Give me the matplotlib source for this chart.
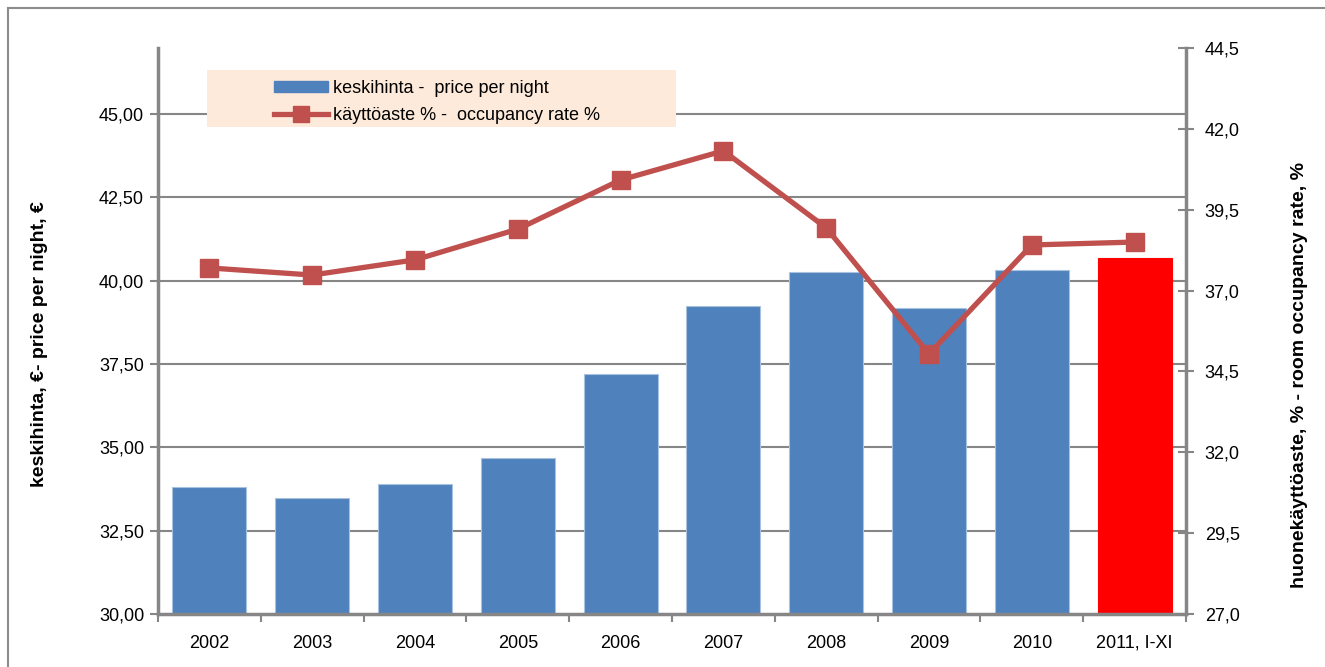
import matplotlib
matplotlib.use("Agg")
import matplotlib.pyplot as plt
from matplotlib.patches import Rectangle, Patch
from matplotlib.lines import Line2D
from matplotlib.ticker import FuncFormatter, FixedLocator

plt.rcParams['font.family'] = ['Liberation Sans', 'DejaVu Sans']

categories = ["2002", "2003", "2004", "2005", "2006", "2007", "2008", "2009", "2010", "2011, I-XI"]
price = [33.81, 33.48, 33.90, 34.68, 37.20, 39.24, 40.26, 39.18, 40.32, 40.68]
occupancy = [37.7, 37.48, 37.95, 38.9, 40.42, 41.32, 38.94, 35.04, 38.41, 38.5]
bar_colors = ["#4F81BD"] * 9 + ["#FF0000"]
left_ticks = [30.0, 32.5, 35.0, 37.5, 40.0, 42.5, 45.0]
right_ticks = [27.0, 29.5, 32.0, 34.5, 37.0, 39.5, 42.0, 44.5]

W, H = 1325, 667
fig = plt.figure(figsize=(W / 100, H / 100), dpi=100)
fig.patch.set_facecolor("white")

# outer frame (left and top edges visible)
fig.add_artist(Line2D([8 / W, 8 / W], [0, 1 - 8 / H], transform=fig.transFigure, color="#8C8C8C", lw=1.5))
fig.add_artist(Line2D([8 / W, 1], [1 - 8 / H, 1 - 8 / H], transform=fig.transFigure, color="#8C8C8C", lw=1.5))

l, r, b, t = 158 / W, 1186 / W, 1 - 614 / H, 1 - 48 / H
ax = fig.add_axes([l, b, r - l, t - b])
ax2 = ax.twinx()

gray = "#868686"
x = list(range(len(categories)))
FS = 13

ax.set_axisbelow(True)
for v in left_ticks[1:]:
    ax.axhline(v, color=gray, lw=1.5, zorder=0)
edges = ["#A9C2E0"] * 9 + ["#FF0000"]
ax.bar(x, price, width=0.72, color=bar_colors, edgecolor=edges, linewidth=0.8, zorder=2)
ax.set_xlim(-0.5, len(categories) - 0.5)
ax.set_ylim(30, 46.98)
ax.set_yticks(left_ticks)
ax.yaxis.set_major_formatter(FuncFormatter(lambda v, p: f"{v:.2f}".replace(".", ",")))

ax2.plot(x, occupancy, color="#C0504D", lw=3.8, marker="s", markersize=13.5, solid_joinstyle="miter", zorder=3)
ax2.set_ylim(27, 44.5)
ax2.set_yticks(right_ticks)
ax2.yaxis.set_major_formatter(FuncFormatter(lambda v, p: f"{v:.1f}".replace(".", ",")))

ax.set_xticks(x)
ax.set_xticklabels(categories)
ax.xaxis.set_minor_locator(FixedLocator([i - 0.5 for i in range(len(categories) + 1)]))
ax.tick_params(axis="x", which="major", length=0, pad=15, labelsize=FS)
ax.tick_params(axis="x", which="minor", length=6, width=1.5, color=gray, direction="out")
ax.tick_params(axis="y", length=6, width=1.5, color=gray, labelsize=FS, pad=4)
ax2.tick_params(axis="y", length=11, width=1.5, color=gray, labelsize=FS, pad=8, direction="inout")

for a in (ax, ax2):
    for s in a.spines.values():
        s.set_visible(False)
ax.spines["left"].set_visible(True)
ax.spines["bottom"].set_visible(True)
ax2.spines["right"].set_visible(True)
for s in (ax.spines["left"], ax.spines["bottom"], ax2.spines["right"]):
    s.set_color(gray)
    s.set_linewidth(2.5)

fig.text(40 / W, 1 - 344 / H, "keskihinta, €- price per night, €", rotation=90, ha="center", va="center",
         fontsize=14, fontweight="bold")
fig.text(1300 / W, 1 - 375 / H, "huonekäyttöaste, % - room occupancy rate, %", rotation=90, ha="center",
         va="center", fontsize=14, fontweight="bold")

# legend background
fig.add_artist(Rectangle((207 / W, 1 - 127 / H), (676 - 207) / W, (127 - 70) / H, transform=fig.transFigure,
                         facecolor="#FDEADA", edgecolor="none", zorder=5))
handles = [Patch(facecolor="#4F81BD", edgecolor="#4F81BD"),
           Line2D([0], [0], color="#C0504D", lw=3.8, marker="s", markersize=11)]
labels = ["keskihinta -  price per night", "käyttöaste % -  occupancy rate %"]
leg = fig.legend(handles, labels, loc="upper left", bbox_to_anchor=(270 / W, 1 - 76 / H), frameon=False,
                 fontsize=FS, handlelength=3.0, handleheight=0.6, handletextpad=0.3, labelspacing=0.6,
                 borderaxespad=0, borderpad=0.2)
leg.set_zorder(6)

fig.savefig("out.png", dpi=100)
